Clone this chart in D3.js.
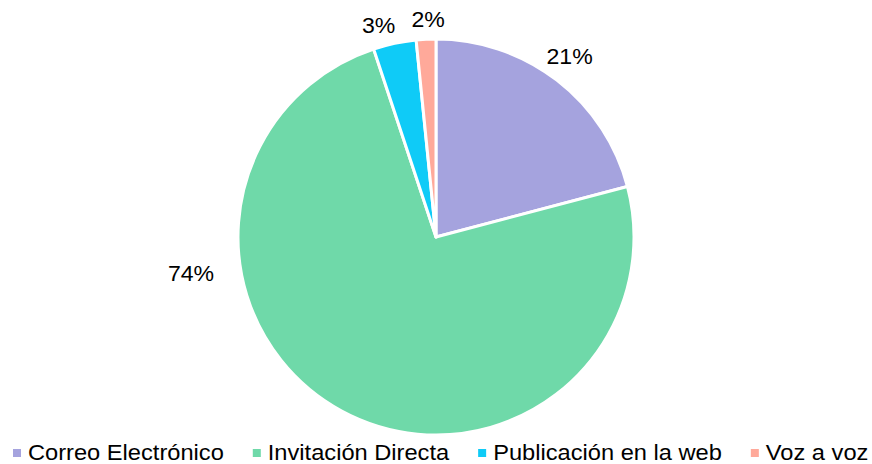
<!DOCTYPE html>
<html>
<head>
<meta charset="utf-8">
<script src="https://cdn.jsdelivr.net/npm/d3@7"></script>
<style>
  html, body { margin: 0; padding: 0; background: #fff; }
  svg { display: block; font-family: 'Liberation Sans', Arial, sans-serif; }
</style>
</head>
<body>
<div id="chart"></div>
<script>
const categories = ['Correo Electrónico', 'Invitación Directa', 'Publicación en la web', 'Voz a voz']
const values = [20.9, 74.0, 3.5, 1.6]
const labels = ['21%', '74%', '3%', '2%']
const colors = ['#a5a3de', '#6fd9a9', '#0fcbf7', '#ffa99a']

const width = 872
const height = 464
const cx = 436
const cy = 237
const radius = 198

// label placement (Excel "best fit"): angle shift in radians and distance from centre
const labelAngleShift = [-0.019, 0.929, -0.054, 0.014]
const labelDist = [224.5, 247.6, 219.7, 218.1]

const svg = d3.select('#chart').append('svg')
  .attr('width', width)
  .attr('height', height)
  .attr('viewBox', [0, 0, width, height].join(' '))

const pie = d3.pie().sort(null).value(d => d)
const arcs = pie(values)

const arc = d3.arc().innerRadius(0).outerRadius(radius)

const g = svg.append('g').attr('transform', `translate(${cx}, ${cy})`)

g.selectAll('path')
  .data(arcs)
  .enter().append('path')
  .attr('d', arc)
  .attr('fill', (d, i) => colors[i])
  .attr('stroke', '#fff')
  .attr('stroke-width', 3)
  .attr('stroke-linejoin', 'round')

g.selectAll('.label')
  .data(arcs)
  .enter().append('text')
  .attr('class', 'label')
  .attr('transform', (d, i) => {
    const a = (d.startAngle + d.endAngle) / 2 + labelAngleShift[i]
    const r = labelDist[i]
    return `translate(${r * Math.sin(a)}, ${-r * Math.cos(a)}) scale(1.05, 1)`
  })
  .attr('text-anchor', 'middle')
  .attr('dy', '0.35em')
  .style('font-size', '22px')
  .attr('fill', '#000')
  .text((d, i) => labels[i])

// Legend, laid out left to right from measured text widths
const LEGEND_STRETCH = 1.1
const legend = svg.append('g').attr('transform', `translate(0, ${height - 4})`)
let legendX = 13
categories.forEach((name, i) => {
  const item = legend.append('g').attr('transform', `translate(${legendX}, 0)`)
  item.append('rect')
    .attr('x', 0)
    .attr('y', -11)
    .attr('width', 8)
    .attr('height', 8)
    .attr('fill', colors[i])
  const text = item.append('text')
    .attr('transform', `translate(15, 0) scale(${LEGEND_STRETCH}, 1)`)
    .style('font-size', '21.5px')
    .attr('fill', '#000')
    .text(name)
  const w = text.node().getComputedTextLength() * LEGEND_STRETCH
  legendX += 15 + w + 29
})
</script>
</body>
</html>
